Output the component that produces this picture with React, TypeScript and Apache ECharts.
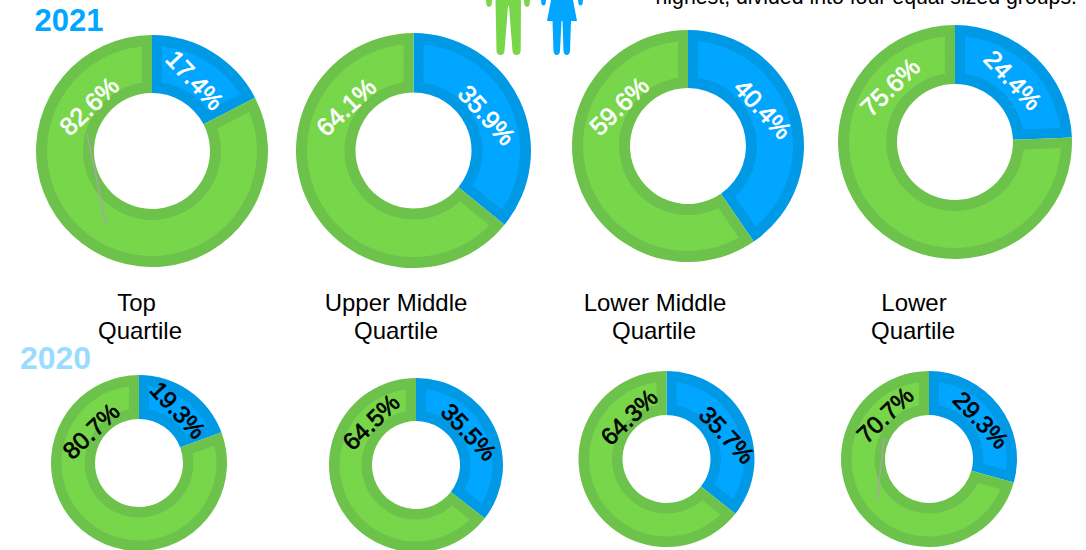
import React, { useEffect, useRef } from "react";
import * as echarts from "echarts";

const quartiles = ["Top", "Upper Middle", "Lower Middle", "Lower"];
const women2021 = [17.4, 35.9, 40.4, 24.4];
const men2021 = [82.6, 64.1, 59.6, 75.6];
const women2020 = [19.3, 35.5, 35.7, 29.3];
const men2020 = [80.7, 64.5, 64.3, 70.7];
const BLUE = "#00A6FF", BLUE_D = "#0099E6", GREEN = "#78D64B", GREEN_D = "#6CC24A";
const FONT = "'Liberation Sans', Arial, sans-serif";

// layout: cx, cy, r, r0
const top = [[152, 151, 116, 58], [413.5, 150.5, 117.5, 58], [688, 146, 116, 58], [955, 142, 117, 58]];
const bottom = [[139, 463, 88, 44], [416, 465, 87, 44], [666.5, 459, 88, 44], [929, 459, 88, 44]];
// label positions: [x, y, rotation in degrees clockwise]
const topLabels = [[[195, 80, 47], [89, 106, -44]], [[487, 115, 48], [346, 107, -43]], [[763, 109, 47], [619, 106, -44]], [[1013, 80, 47], [890, 87, -44]]];
const botLabels = [[[178, 410, 47], [91, 431, -44]], [[469, 432, 47], [371, 422, -44]], [[727, 435, 47], [629, 417, -44]], [[981, 420, 47], [885, 415, -44]]];
const quartileLines = [
  [["Top", 136.5, 302], ["Quartile", 140, 330]],
  [["Upper Middle", 396, 302], ["Quartile", 396, 330]],
  [["Lower Middle", 655, 302], ["Quartile", 654, 330]],
  [["Lower", 914, 302], ["Quartile", 913, 330]],
];

const MAN_D = "M486 0H492L491.5 5Q489 9 486.5 5ZM524 0H530L529.5 5Q527 9 524.5 5ZM495.5 0H521L520.7 51Q520 55 516.5 55Q513 55 512.5 51L509 6H508L504.5 51Q504 55 500.5 55Q497 55 496.5 51Z";
const WOMAN_D = "M541 0H546L545.5 4Q543.5 7 541.5 4ZM578 0H583L582.5 4Q580.5 7 578.5 4ZM551 0H573L577 21H571L570 51Q569.5 55 566.8 55Q564 55 563.5 51L562.5 21H561.5L560 51Q559.5 55 556.8 55Q554 55 553.5 51L552.5 21H547Z";
echarts.graphic.registerShape("man", echarts.graphic.extendPath(MAN_D, {}));
echarts.graphic.registerShape("woman", echarts.graphic.extendPath(WOMAN_D, {}));

function donut(women: number, men: number, l: number[], band: number) {
  const [cx, cy, r, r0] = l;
  const data = (names: string[]) => [
    { name: "Women", value: women, itemStyle: { color: names[0] } },
    { name: "Men", value: men, itemStyle: { color: names[1] } },
  ];
  const common = {
    type: "pie", center: [cx, cy], startAngle: 90, clockwise: true,
    label: { show: false }, labelLine: { show: false }, silent: true,
  };
  const out: any[] = [{ ...common, radius: [r0, r], data: data([BLUE_D, GREEN_D]) }];
  // Thin concentric rings: each gets its own gap angle so the darker rim keeps a constant width.
  const inner = r0 + band, outer = r - band, step = 3, side = 10;
  for (let a = inner; a < outer - 0.01; a += step) {
    const b = Math.min(outer, a + step);
    const m = (a + b) / 2;
    out.push({ ...common, radius: [a, Math.min(outer, b + 0.5)], padAngle: ((2 * side) / m) * (180 / Math.PI), data: data([BLUE, GREEN]) });
  }
  return out;
}

export default function App() {
  const ref = useRef<HTMLDivElement>(null);
  useEffect(() => {
    document.body.style.margin = "0";
    const chart = echarts.init(ref.current!, null, { renderer: "svg" });
    const txt = (text: string, x: number, y: number, size: number, color: string, extra: any = {}) => ({
      type: "text", x, y, z: 100, rotation: extra.rot ? (-extra.rot * Math.PI) / 180 : 0,
      style: {
        text, fill: color, font: `${extra.weight || "normal"} ${size}px ${FONT}`, textAlign: extra.align || "center", textVerticalAlign: "middle",
        ...(extra.stroke ? { stroke: color, lineWidth: extra.stroke } : {}),
      },
    });
    const graphics: any[] = [
      txt("2021", 69, 20, 31, BLUE, { weight: "bold" }),
      txt("2020", 55.5, 358, 32, "#99DCFF", { weight: "bold" }),
      txt("highest, divided into four equal sized groups.", 1077, -3, 21.3, "#000", { align: "right" }),
      { type: "man", z: 100, style: { fill: GREEN } },
      { type: "woman", z: 100, style: { fill: BLUE } },
      { type: "line", z: 99, shape: { x1: 87, y1: 134, x2: 106.5, y2: 225 }, style: { stroke: "#A6A6A6", lineWidth: 1.5 } },
      { type: "line", z: 99, shape: { x1: 884, y1: 438, x2: 877, y2: 500 }, style: { stroke: "#A6A6A6", lineWidth: 1.5 } },
    ];
    quartileLines.forEach((lines) => lines.forEach(([t, x, y]) => graphics.push(txt(t as string, x as number, y as number, 24, "#000"))));
    quartiles.forEach((_, i) => {
      graphics.push(txt(`${women2021[i].toFixed(1)}%`, topLabels[i][0][0], topLabels[i][0][1], 25, "#fff", { rot: topLabels[i][0][2], stroke: 0.7 }));
      graphics.push(txt(`${men2021[i].toFixed(1)}%`, topLabels[i][1][0], topLabels[i][1][1], 25, "#fff", { rot: topLabels[i][1][2], stroke: 0.7 }));
      graphics.push(txt(`${women2020[i].toFixed(1)}%`, botLabels[i][0][0], botLabels[i][0][1], 24, "#000", { rot: botLabels[i][0][2], stroke: 0.7 }));
      graphics.push(txt(`${men2020[i].toFixed(1)}%`, botLabels[i][1][0], botLabels[i][1][1], 24, "#000", { rot: botLabels[i][1][2], stroke: 0.7 }));
    });
    const series: any[] = [];
    quartiles.forEach((_, i) => {
      series.push(...donut(women2021[i], men2021[i], top[i], 11));
      series.push(...donut(women2020[i], men2020[i], bottom[i], 10.5));
    });
    chart.setOption({ animation: false, series, graphic: { elements: graphics } });
    return () => chart.dispose();
  }, []);
  return <div ref={ref} style={{ position: "fixed", left: 0, top: 0, width: 1086, height: 550, background: "#fff" }} />;
}
